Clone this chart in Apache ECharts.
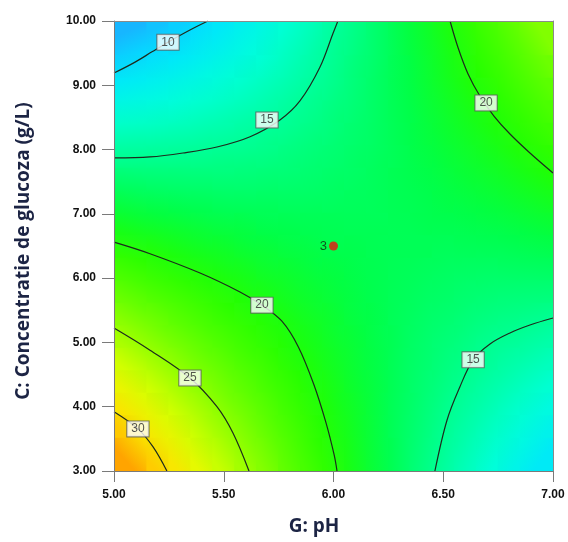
<!DOCTYPE html>
<html>
<head>
<meta charset="utf-8">
<script src="https://cdn.jsdelivr.net/npm/echarts@6/dist/echarts.min.js"></script>
<style>
html,body{margin:0;padding:0;background:#fff;}
#chart{width:568px;height:542px;}
</style>
</head>
<body>
<div id="chart"></div>
<script>
// ---- data ----
const phCenters = [5.05,5.15,5.25,5.35,5.45,5.55,5.65,5.75,5.85,5.95,6.05,6.15,6.25,6.35,6.45,6.55,6.65,6.75,6.85,6.95];
const glucoseCenters = [3.175,3.525,3.875,4.225,4.575,4.925,5.275,5.625,5.975,6.325,6.675,7.025,7.375,7.725,8.075,8.425,8.775,9.125,9.475,9.825];
// response rows, bottom (glucose 3.175) to top (glucose 9.825), left (pH 5.05) to right (pH 6.95)
const responseRows = [
  [32.1,30.7,29.4,28.0,26.7,25.4,24.2,22.9,21.7,20.6,19.4,18.3,17.3,16.2,15.2,14.2,13.3,12.4,11.5,10.6],
  [30.8,29.5,28.3,27.0,25.8,24.7,23.5,22.4,21.3,20.2,19.2,18.2,17.2,16.3,15.4,14.5,13.7,12.9,12.1,11.3],
  [29.6,28.4,27.2,26.1,25.0,23.9,22.9,21.8,20.9,19.9,19.0,18.1,17.2,16.4,15.6,14.8,14.1,13.4,12.7,12.0],
  [28.3,27.2,26.1,25.1,24.1,23.1,22.2,21.3,20.4,19.6,18.7,18.0,17.2,16.5,15.8,15.1,14.5,13.9,13.3,12.7],
  [27.0,26.0,25.1,24.1,23.3,22.4,21.6,20.7,20.0,19.2,18.5,17.8,17.2,16.5,16.0,15.4,14.9,14.4,13.9,13.4],
  [25.7,24.9,24.0,23.2,22.4,21.6,20.9,20.2,19.5,18.9,18.3,17.7,17.2,16.6,16.1,15.7,15.2,14.8,14.5,14.1],
  [24.5,23.7,22.9,22.2,21.5,20.9,20.3,19.7,19.1,18.6,18.0,17.6,17.1,16.7,16.3,16.0,15.6,15.3,15.1,14.8],
  [23.2,22.5,21.9,21.3,20.7,20.1,19.6,19.1,18.6,18.2,17.8,17.4,17.1,16.8,16.5,16.3,16.0,15.8,15.7,15.6],
  [21.9,21.3,20.8,20.3,19.8,19.4,18.9,18.6,18.2,17.9,17.6,17.3,17.1,16.9,16.7,16.5,16.4,16.3,16.3,16.3],
  [20.6,20.2,19.7,19.3,19.0,18.6,18.3,18.0,17.8,17.5,17.4,17.2,17.1,17.0,16.9,16.8,16.8,16.8,16.9,17.0],
  [19.3,19.0,18.7,18.4,18.1,17.9,17.6,17.5,17.3,17.2,17.1,17.1,17.0,17.0,17.1,17.1,17.2,17.3,17.5,17.7],
  [18.1,17.8,17.6,17.4,17.2,17.1,17.0,16.9,16.9,16.9,16.9,16.9,17.0,17.1,17.3,17.4,17.6,17.8,18.1,18.4],
  [16.8,16.6,16.5,16.4,16.4,16.3,16.3,16.4,16.4,16.5,16.7,16.8,17.0,17.2,17.4,17.7,18.0,18.3,18.7,19.1],
  [15.5,15.5,15.5,15.5,15.5,15.6,15.7,15.8,16.0,16.2,16.4,16.7,17.0,17.3,17.6,18.0,18.4,18.8,19.3,19.8],
  [14.2,14.3,14.4,14.5,14.7,14.8,15.0,15.3,15.6,15.9,16.2,16.5,16.9,17.4,17.8,18.3,18.8,19.3,19.9,20.5],
  [13.0,13.1,13.3,13.5,13.8,14.1,14.4,14.7,15.1,15.5,16.0,16.4,16.9,17.4,18.0,18.6,19.2,19.8,20.5,21.2],
  [11.7,11.9,12.2,12.6,12.9,13.3,13.7,14.2,14.7,15.2,15.7,16.3,16.9,17.5,18.2,18.9,19.6,20.3,21.1,21.9],
  [10.4,10.8,11.2,11.6,12.1,12.6,13.1,13.6,14.2,14.8,15.5,16.2,16.9,17.6,18.4,19.2,20.0,20.8,21.7,22.6],
  [9.1,9.6,10.1,10.6,11.2,11.8,12.4,13.1,13.8,14.5,15.3,16.0,16.8,17.7,18.5,19.4,20.4,21.3,22.3,23.3],
  [7.8,8.4,9.0,9.7,10.4,11.1,11.8,12.6,13.3,14.2,15.0,15.9,16.8,17.8,18.7,19.7,20.8,21.8,22.9,24.1]
];

// contour lines [pH, glucose]
const contour10 = [[5.0,9.19],[5.096,9.36],[5.173,9.52],[5.246,9.67],[5.346,9.86],[5.428,10.0]];
const contour15Upper = [[5.0,7.87],[5.164,7.885],[5.314,7.947],[5.469,8.04],[5.62,8.2],[5.756,8.46],[5.847,8.756],[5.938,9.28],[5.998,9.81],[6.02,10.0]];
const contour20Upper = [[6.531,10.0],[6.568,9.58],[6.613,9.176],[6.667,8.833],[6.731,8.522],[6.804,8.242],[6.895,7.947],[7.0,7.636]];
const contour20Lower = [[5.0,6.56],[5.164,6.38],[5.392,6.08],[5.574,5.785],[5.674,5.58],[5.765,5.33],[5.84,4.93],[5.91,4.35],[5.965,3.76],[6.003,3.25],[6.016,3.0]];
const contour25 = [[5.0,5.225],[5.164,4.88],[5.346,4.447],[5.469,4.0],[5.542,3.59],[5.615,3.0]];
const contour30 = [[5.0,3.92],[5.109,3.655],[5.178,3.374],[5.241,3.0]];
const contour15Lower = [[6.462,3.0],[6.517,3.79],[6.576,4.31],[6.636,4.73],[6.713,4.976],[6.804,5.147],[6.895,5.271],[7.0,5.38]];

// contour level labels
const labelText = ['10','15','20','20','25','30','15'];
const labelPH = [5.246,5.697,6.695,5.674,5.346,5.109,6.636];
const labelGlucose = [9.67,8.46,8.725,5.58,4.447,3.655,4.73];

// design point (centre point, 3 replicates)
const designPH = [6.0];
const designGlucose = [6.5];
const designCount = ['3'];

const xTicks = [5.0, 7.0, 0.5];
const yTicks = [3.0, 10.0, 1.0];

// ---- build ----
const nX = phCenters.length, nY = glucoseCenters.length;
const heatData = [];
responseRows.forEach((row, j) => row.forEach((v, i) => heatData.push([phCenters[i], glucoseCenters[j], v])));

// each quad spans between four neighbouring grid nodes and is shaded with a linear
// gradient running between the colours of its lowest and highest corners
function renderCell(params, api) {
  const idx = params.dataIndexInside;
  const i = idx % nX, j = Math.floor(idx / nX);
  if (i >= nX - 1 || j >= nY - 1) return null;
  const ids = [idx, idx + 1, idx + nX, idx + nX + 1];
  const vals = ids.map(k => heatData[k][2]);
  const P = ids.map(k => api.coord([heatData[k][0], heatData[k][1]]));
  const w = P[1][0] - P[0][0];
  const h = P[2][1] - P[0][1];
  const gx = ((vals[1] - vals[0]) + (vals[3] - vals[2])) / 2 / w;
  const gy = ((vals[2] - vals[0]) + (vals[3] - vals[1])) / 2 / h;
  const x0 = i === 0 ? api.coord([xTicks[0], 0])[0] : P[0][0];
  const x1 = i === nX - 2 ? api.coord([xTicks[1], 0])[0] : P[1][0];
  const yb = j === 0 ? api.coord([0, yTicks[0]])[1] : P[0][1];
  const yt = j === nY - 2 ? api.coord([0, yTicks[1]])[1] : P[2][1];
  const shape = { x: x0 - 0.5, y: yt - 0.5, width: x1 - x0 + 1, height: yb - yt + 1 };
  const gl = Math.hypot(gx, gy);
  let fill;
  if (gl < 1e-6) {
    fill = api.visual('color', ids[0]);
  } else {
    const ux = gx / gl, uy = gy / gl;
    const cx = (P[0][0] + P[3][0]) / 2, cy = (P[0][1] + P[3][1]) / 2;
    const s = P.map(p => (p[0] - cx) * ux + (p[1] - cy) * uy);
    let kMin = 0, kMax = 0;
    s.forEach((v, k) => { if (v < s[kMin]) kMin = k; if (v > s[kMax]) kMax = k; });
    fill = new echarts.graphic.LinearGradient(
      cx + s[kMin] * ux, cy + s[kMin] * uy, cx + s[kMax] * ux, cy + s[kMax] * uy,
      [{ offset: 0, color: api.visual('color', ids[kMin]) }, { offset: 1, color: api.visual('color', ids[kMax]) }],
      true);
  }
  return { type: 'rect', shape: shape, style: { fill: fill } };
}

const lineStyle = { color: '#1d2b1d', width: 1.2 };
function contourSeries(data) {
  return { type: 'line', data: data, smooth: 0.35, symbol: 'none', silent: true, lineStyle: lineStyle, z: 4, clip: true };
}

const tickFont = { fontFamily: 'Liberation Sans', fontSize: 12, fontWeight: 'bold', color: '#111' };
const titleFont = { fontFamily: 'Open Sans', fontSize: 19, fontWeight: 'bold', color: '#1c2444' };

const option = {
  animation: false,
  grid: { left: 114, top: 21, width: 439, height: 450, containLabel: false },
  visualMap: {
    show: false, type: 'continuous', seriesIndex: 0, dimension: 2, min: 5, max: 35,
    inRange: { color: ['#3a80ff', '#1ab0ff', '#00e4ff', '#00ffd8', '#00ff90', '#00ff48', '#22ff00',
                       '#58ff00', '#98ff00', '#e0ff00', '#ffe000', '#ff9800', '#ff6a00'] }
  },
  xAxis: [{
    type: 'value', min: xTicks[0], max: xTicks[1], interval: xTicks[2], z: 10,
    name: 'G: pH', nameLocation: 'middle', nameGap: 46,
    nameTextStyle: Object.assign({ padding: [0, 39, 0, 0] }, titleFont),
    axisLine: { show: true, onZero: false, lineStyle: { color: '#7a7a7a', width: 1 } },
    axisTick: { show: true, length: 11, lineStyle: { color: '#7a7a7a' } },
    axisLabel: Object.assign({ margin: 18, formatter: v => v.toFixed(2) }, tickFont),
    splitLine: { show: false }
  }, {
    type: 'value', position: 'top', min: xTicks[0], max: xTicks[1], z: 10,
    axisLine: { show: true, lineStyle: { color: '#8a8a8a', width: 1 } },
    axisTick: { show: false }, axisLabel: { show: false }, splitLine: { show: false }
  }],
  yAxis: [{
    type: 'value', min: yTicks[0], max: yTicks[1], interval: yTicks[2], z: 10,
    name: 'C: Concentratie de glucoza (g/L)', nameLocation: 'middle', nameGap: 81,
    nameTextStyle: Object.assign({ padding: [0, 10, 0, 0] }, titleFont),
    axisLine: { show: true, onZero: false, lineStyle: { color: '#7a7a7a', width: 1 } },
    axisTick: { show: true, length: 12, lineStyle: { color: '#7a7a7a' } },
    axisLabel: Object.assign({ margin: 18, formatter: v => v.toFixed(2) }, tickFont),
    splitLine: { show: false }
  }, {
    type: 'value', position: 'right', min: yTicks[0], max: yTicks[1], z: 10,
    axisLine: { show: true, lineStyle: { color: '#8a8a8a', width: 1 } },
    axisTick: { show: false }, axisLabel: { show: false }, splitLine: { show: false }
  }],
  series: [
    { type: 'custom', renderItem: renderCell, data: heatData, encode: { x: 0, y: 1 }, clip: true, silent: true, z: 1 },
    contourSeries(contour10),
    contourSeries(contour15Upper),
    contourSeries(contour20Upper),
    contourSeries(contour20Lower),
    contourSeries(contour25),
    contourSeries(contour30),
    contourSeries(contour15Lower),
    {
      type: 'scatter', z: 6, silent: true, symbolSize: 1, itemStyle: { color: 'rgba(0,0,0,0)' },
      data: labelText.map((t, i) => ({ value: [labelPH[i], labelGlucose[i]], name: t })),
      label: {
        show: true, position: 'inside', formatter: p => p.name,
        fontFamily: 'Liberation Sans', fontSize: 12, color: '#2a2a2a',
        backgroundColor: '#ffffff', borderColor: '#5e5e5e', borderWidth: 1, padding: [2, 4, 1, 4]
      }
    },
    {
      type: 'scatter', z: 7, silent: true, symbol: 'circle', symbolSize: 9,
      itemStyle: { color: '#f01010' },
      data: designPH.map((p, i) => ({ value: [p, designGlucose[i]], name: designCount[i] })),
      label: { show: true, position: 'left', distance: 2, formatter: p => p.name,
        fontFamily: 'Liberation Sans', fontSize: 13, color: '#102a10' }
    }
  ]
};

const chart = echarts.init(document.getElementById('chart'), null, { renderer: 'canvas' });
chart.setOption(option);
</script>
</body>
</html>
